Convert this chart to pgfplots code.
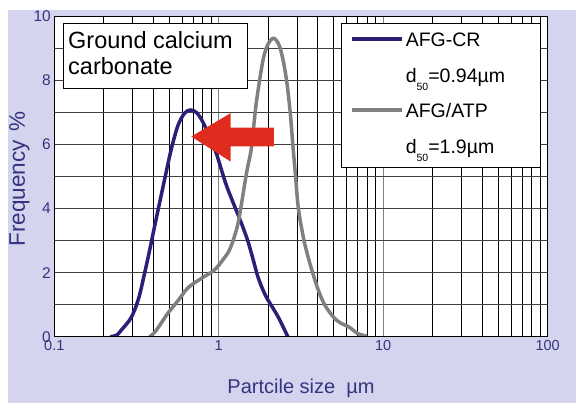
\documentclass[border=0pt]{standalone}
\usepackage{pgfplots}
\pgfplotsset{compat=1.18}
\usepackage{fontspec}
\setmainfont{Liberation Sans}
\definecolor{lav}{RGB}{212,212,238}
\definecolor{navytext}{RGB}{52,52,128}
\definecolor{navyline}{RGB}{42,32,120}
\definecolor{grayline}{RGB}{128,128,128}
\definecolor{arrowred}{RGB}{224,44,30}
\begin{document}
\begin{tikzpicture}
\path[use as bounding box] (0,0) rectangle (576pt,403pt);
\fill[white] (0,0) rectangle (576pt,403pt);
\fill[lav] (8pt,0) rectangle (576pt,393pt);
\begin{axis}[
  at={(54.3pt,66.3pt)}, anchor=south west,
  width=493.4pt, height=320.2pt, scale only axis,
  xmode=log, xmin=0.1, xmax=100, ymin=0, ymax=10,
  xtick={0.1,1,10,100}, xticklabels={0.1,1,10,100},
  ytick={0,2,4,6,8,10}, minor ytick={1,3,5,7,9},
  grid=both,
  major x grid style={draw=gray, line width=1.1pt},
  minor x grid style={draw=black, line width=0.75pt},
  major y grid style={draw=black!75, line width=1.1pt},
  minor y grid style={draw=black!75, line width=1.1pt},
  major tick length=0pt, minor tick length=0pt,
  axis line style={draw=black, line width=0.8pt},
  axis background/.style={fill=white},
  xticklabel style={font=\fontsize{14.5}{14.5}\selectfont, text=navytext},
  yticklabel style={font=\fontsize{15.5}{15.5}\selectfont, text=navytext},
  /pgf/number format/assume math mode=true,
  xlabel={Partcile size\hspace{0.55em}µm},
  ylabel={Frequency\hspace{0.4em}\%},
  xlabel style={font=\fontsize{20}{20}\selectfont, text=navytext, at={(axis description cs:0.5,-0.176)}, anchor=base},
  ylabel style={font=\fontsize{22.5}{22.5}\selectfont, text=navytext, at={(axis description cs:-0.0594,0.4925)}, anchor=base},
  legend style={at={(axis description cs:0.6007,0.951)}, anchor=north west,
    draw=none, fill=none, inner sep=0pt, outer sep=0pt,
    row sep=17pt, column sep=2.3pt,
    font=\fontsize{19.5}{20}\selectfont,
    cells={anchor=base west},
    nodes={inner sep=0pt, text height=14.5pt, text depth=4pt}},
  legend image code/.code={\draw[#1, line cap=butt] (0pt,7.7pt) -- (49.3pt,7.7pt);},
]
\addplot[navyline, line width=3.5pt, smooth, line cap=round] coordinates {
 (0.22,0) (0.24,0.05) (0.255,0.2) (0.287,0.52) (0.308,0.83) (0.33,1.3)
 (0.354,1.98) (0.38,2.7) (0.407,3.44) (0.468,4.9) (0.514,5.85) (0.565,6.6)
 (0.62,6.98) (0.674,7.08) (0.74,6.98) (0.82,6.6) (0.9,6.1) (0.97,5.7)
 (1.1,4.8) (1.22,4.2) (1.36,3.6) (1.5,3.0) (1.62,2.4) (1.73,1.87)
 (1.86,1.45) (1.99,1.15) (2.29,0.63) (2.63,0)
};
\addlegendentry{AFG-CR}
\addlegendimage{empty legend}
\addlegendentry{d\raisebox{-8pt}{\fontsize{10.5}{10.5}\selectfont 50}=0.94µm}
\addplot[grayline, line width=3.5pt, smooth, line cap=round] coordinates {
 (0.38,0) (0.41,0.15) (0.45,0.45) (0.49,0.73) (0.57,1.15) (0.63,1.45)
 (0.68,1.61) (0.80,1.85) (0.94,2.08) (1.06,2.4) (1.16,2.7) (1.24,3.1)
 (1.31,3.54) (1.38,4.2) (1.44,4.79) (1.5,5.31) (1.58,5.9) (1.69,7.29)
 (1.86,8.65) (2.0,9.15) (2.16,9.32) (2.33,9.1) (2.47,8.6) (2.6,7.9)
 (2.72,7.0) (2.82,6.0) (2.92,5.1) (3.05,4.0) (3.3,3.0) (3.6,2.25)
 (4.0,1.5) (4.4,1.0) (5.0,0.6) (5.5,0.43) (6.2,0.3) (7.0,0.1) (7.9,0.02)
};
\addlegendentry{AFG/ATP}
\addlegendimage{empty legend}
\addlegendentry{d\raisebox{-8pt}{\fontsize{10.5}{10.5}\selectfont 50}=1.9µm}
\fill[arrowred] (axis cs:0.681,6.25) -- (axis cs:1.18,6.98) -- (axis cs:1.18,6.53)
  -- (axis cs:2.165,6.53) -- (axis cs:2.165,5.94) -- (axis cs:1.18,5.94)
  -- (axis cs:1.18,5.47) -- cycle;
\draw[black, line width=0.8pt, fill=white] (axis description cs:0.0176,0.9797) rectangle (axis description cs:0.3906,0.7767);
\node[anchor=base west, font=\fontsize{23.5}{23.5}\selectfont, inner sep=0pt] at (axis description cs:0.0278,0.9016) {Ground calcium};
\node[anchor=base west, font=\fontsize{23.5}{23.5}\selectfont, inner sep=0pt] at (axis description cs:0.0278,0.8173) {carbonate};
\draw[black, line width=0.8pt, fill=white] (axis description cs:0.5811,0.9788) rectangle (axis description cs:0.9858,0.5278);
\draw[black, line width=1.8pt] (axis description cs:0,1) -- (axis description cs:0,0) -- (axis description cs:1,0);
\end{axis}
\end{tikzpicture}
\end{document}
